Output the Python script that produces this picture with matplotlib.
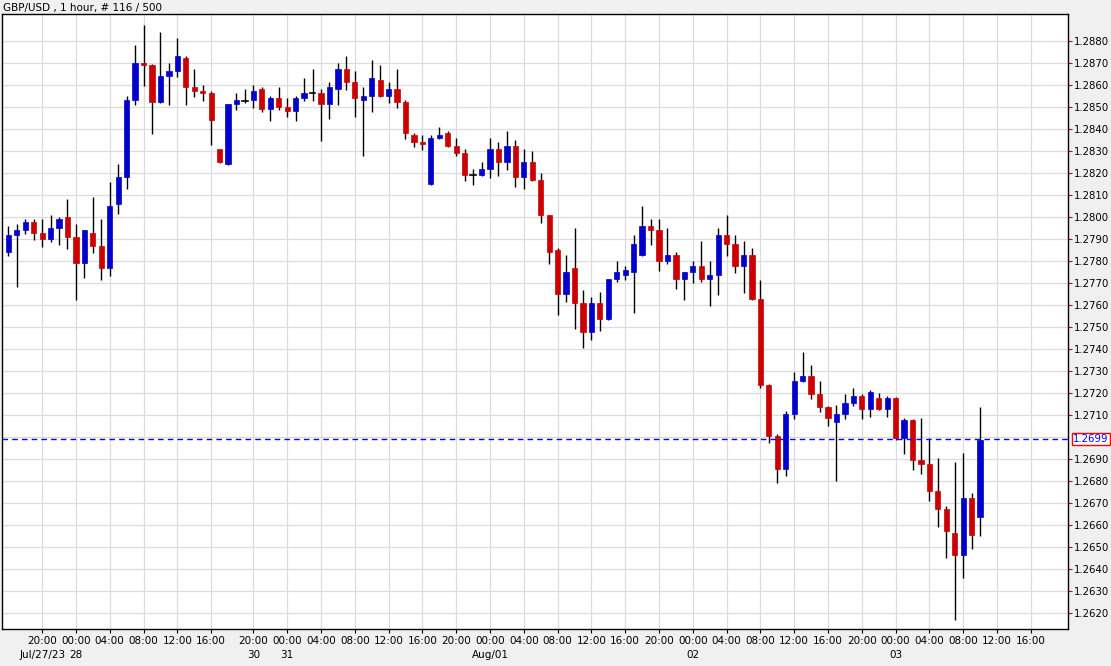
import matplotlib
matplotlib.use("Agg")
import matplotlib.pyplot as plt
from matplotlib.patches import Rectangle
from matplotlib.transforms import blended_transform_factory
import numpy as np

opens = [1.27842,1.27918,1.27941,1.27977,1.27927,1.27900,1.27950,1.28000,1.27909,1.27791,
         1.27927,1.27868,1.27768,1.28061,1.28182,1.28532,1.28700,1.28690,1.28524,1.28641,
         1.28664,1.28723,1.28591,1.28573,1.28564,1.28309,1.28242,1.28514,1.28529,1.28532,
         1.28582,1.28491,1.28541,1.28500,1.28482,1.28541,1.28564,1.28564,1.28514,1.28582,
         1.28673,1.28614,1.28532,1.28550,1.28623,1.28550,1.28582,1.28523,1.28373,1.28341,
         1.28150,1.28359,1.28382,1.28323,1.28291,1.28191,1.28191,1.28218,1.28309,1.28250,
         1.28323,1.28182,1.28250,1.28168,1.28009,1.27852,1.27652,1.27768,1.27609,1.27479,
         1.27609,1.27538,1.27718,1.27736,1.27750,1.27827,1.27959,1.27941,1.27800,1.27827,
         1.27718,1.27750,1.27777,1.27718,1.27736,1.27918,1.27877,1.27777,1.27827,1.27627,
         1.27238,1.27005,1.26856,1.27106,1.27255,1.27277,1.27197,1.27136,1.27070,1.27105,
         1.27155,1.27186,1.27128,1.27177,1.27127,1.27177,1.26995,1.27077,1.26895,1.26877,
         1.26755,1.26673,1.26564,1.26464,1.26723,1.26636]
highs = [1.27959,1.27968,1.27991,1.27991,1.27991,1.28009,1.28000,1.28082,1.27968,1.27941,
         1.28091,1.27991,1.28159,1.28241,1.28550,1.28782,1.28873,1.28695,1.28841,1.28700,
         1.28814,1.28730,1.28671,1.28600,1.28573,1.28310,1.28514,1.28564,1.28582,1.28600,
         1.28591,1.28550,1.28591,1.28541,1.28550,1.28632,1.28673,1.28582,1.28614,1.28700,
         1.28732,1.28664,1.28591,1.28714,1.28691,1.28614,1.28673,1.28532,1.28382,1.28373,
         1.28373,1.28409,1.28391,1.28359,1.28309,1.28218,1.28250,1.28359,1.28341,1.28391,
         1.28350,1.28309,1.28300,1.28200,1.28010,1.27861,1.27829,1.27950,1.27668,1.27636,
         1.27659,1.27720,1.27800,1.27777,1.27918,1.28050,1.27991,1.27991,1.27950,1.27841,
         1.27750,1.27800,1.27891,1.27800,1.27950,1.28009,1.27918,1.27891,1.27859,1.27714,
         1.27240,1.27014,1.27118,1.27295,1.27386,1.27327,1.27255,1.27142,1.27145,1.27195,
         1.27223,1.27195,1.27214,1.27200,1.27186,1.27180,1.27086,1.27080,1.27086,1.26995,
         1.26905,1.26686,1.26886,1.26927,1.26746,1.27136]
lows = [1.27824,1.27683,1.27923,1.27895,1.27864,1.27886,1.27873,1.27855,1.27623,1.27724,
        1.27836,1.27715,1.27733,1.28015,1.28129,1.28510,1.28597,1.28379,1.28520,1.28510,
        1.28636,1.28511,1.28547,1.28529,1.28329,1.28247,1.28238,1.28486,1.28520,1.28495,
        1.28477,1.28438,1.28486,1.28456,1.28438,1.28527,1.28527,1.28347,1.28447,1.28509,
        1.28577,1.28455,1.28277,1.28477,1.28545,1.28518,1.28495,1.28355,1.28318,1.28305,
        1.28145,1.28355,1.28318,1.28277,1.28164,1.28145,1.28186,1.28177,1.28186,1.28214,
        1.28136,1.28127,1.28164,1.27973,1.27786,1.27556,1.27615,1.27492,1.27406,1.27441,
        1.27483,1.27533,1.27705,1.27714,1.27565,1.27823,1.27873,1.27755,1.27786,1.27671,
        1.27623,1.27700,1.27705,1.27595,1.27645,1.27823,1.27745,1.27653,1.27623,1.27224,
        1.26974,1.26792,1.26824,1.27083,1.27250,1.27174,1.27115,1.27052,1.26802,1.27083,
        1.27142,1.27083,1.27091,1.27123,1.27091,1.26986,1.26923,1.26850,1.26832,1.26709,
        1.26591,1.26450,1.26168,1.26359,1.26491,1.26550]
closes = [1.27918,1.27941,1.27977,1.27927,1.27900,1.27950,1.27991,1.27909,1.27791,1.27941,
          1.27868,1.27768,1.28050,1.28182,1.28532,1.28700,1.28692,1.28524,1.28641,1.28664,
          1.28732,1.28592,1.28574,1.28565,1.28442,1.28252,1.28514,1.28532,1.28529,1.28573,
          1.28491,1.28541,1.28500,1.28482,1.28541,1.28564,1.28564,1.28514,1.28591,1.28673,
          1.28614,1.28541,1.28550,1.28632,1.28550,1.28582,1.28523,1.28382,1.28341,1.28332,
          1.28359,1.28373,1.28323,1.28291,1.28191,1.28191,1.28218,1.28309,1.28250,1.28323,
          1.28182,1.28250,1.28168,1.28009,1.27842,1.27652,1.27750,1.27611,1.27479,1.27609,
          1.27538,1.27718,1.27750,1.27759,1.27877,1.27959,1.27941,1.27800,1.27827,1.27718,
          1.27750,1.27777,1.27718,1.27736,1.27918,1.27877,1.27777,1.27827,1.27627,1.27238,
          1.27006,1.26856,1.27105,1.27255,1.27277,1.27197,1.27138,1.27088,1.27105,1.27155,
          1.27186,1.27128,1.27205,1.27127,1.27177,1.26995,1.27077,1.26895,1.26877,1.26755,
          1.26673,1.26573,1.26464,1.26723,1.26555,1.26986]

tick_idx = [4,8,12,16,20,24,29,33,37,41,45,49,53,57,61,65,69,73,77,81,85,89,93,97,101,105,109,113,117,121]
tick_lbl = ["20:00","00:00","04:00","08:00","12:00","16:00","20:00","00:00","04:00","08:00","12:00","16:00",
            "20:00","00:00","04:00","08:00","12:00","16:00","20:00","00:00","04:00","08:00","12:00","16:00",
            "20:00","00:00","04:00","08:00","12:00","16:00"]
date_idx = [4, 8, 29, 33, 57, 81, 105]
date_lbl = ["Jul/27/23", "28", "30", "31", "Aug/01", "02", "03"]
last_price = 1.2699
price_ticks = [round(1.2620 + 0.001*k, 4) for k in range(27)]

W, H = 1111, 666
fig = plt.figure(figsize=(W/100, H/100), dpi=100, facecolor="#f0f0f0")
ax = fig.add_axes([2/W, (H-629)/H, 1066/W, 615/H], facecolor="white")
ax.set_xlim(-0.75, 125.4)
ax.set_ylim(1.26127, 1.28923)

blue, red = "#0000cc", "#cc0000"
bw = 0.62
for i, (o, h, l, c) in enumerate(zip(opens, highs, lows, closes)):
    ax.plot([i, i], [l, h], color="black", lw=1.0, zorder=2, solid_capstyle="butt")
    col = blue if c >= o else red
    lo, hi = min(o, c), max(o, c)
    if hi - lo < 0.00003:
        ax.plot([i-bw/2, i+bw/2], [o, o], color="black" if abs(c-o) < 1e-6 else col, lw=1.2, zorder=3)
    else:
        ax.add_patch(Rectangle((i-bw/2, lo), bw, hi-lo, facecolor=col, edgecolor=col, lw=0.5, zorder=3))

for p in price_ticks:
    ax.axhline(p, color="#dcdcdc", lw=0.9, zorder=0)
for t in tick_idx:
    ax.axvline(t, color="#dcdcdc", lw=0.9, zorder=0)
ax.axhline(last_price, color="#0000ff", lw=1.0, ls=(0, (4, 3)), zorder=4)

ax.yaxis.tick_right()
shown = [p for p in price_ticks if abs(p-1.2700) > 1e-6]
ax.set_yticks(shown)
ax.set_yticklabels([f"{p:.4f}" for p in shown], fontsize=7.3)
ax.tick_params(axis="y", direction="out", length=3, color="#cc0000", pad=1.5)
ax.set_xticks(tick_idx)
ax.set_xticklabels(tick_lbl, fontsize=7.5)
ax.tick_params(axis="x", direction="out", length=3, pad=2)
for s in ax.spines.values():
    s.set_color("black")
    s.set_linewidth(1.0)

tr = blended_transform_factory(ax.transData, fig.transFigure)
for d, lb in zip(date_idx, date_lbl):
    ax.text(d, (H-655)/H, lb, transform=tr, fontsize=7.5, ha="center", va="center")

tr2 = blended_transform_factory(ax.transAxes, ax.transData)
ax.text(1.0 + 5/1066, last_price, f"{last_price:.4f}", transform=tr2, fontsize=7.3, color="#0000ff",
        ha="left", va="center",
        bbox=dict(boxstyle="square,pad=0.12", facecolor="white", edgecolor="#ff0000", lw=1))

fig.text(3/W, 1-8/H, "GBP/USD , 1 hour, # 116 / 500", fontsize=7.5, ha="left", va="center")

fig.savefig("out.png", dpi=100, facecolor=fig.get_facecolor())
